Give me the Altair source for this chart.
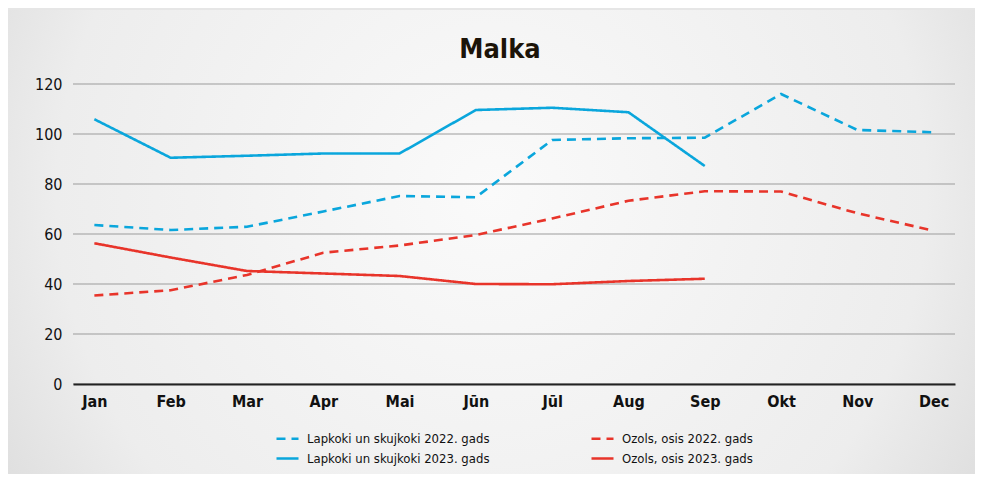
import altair as alt
import pandas as pd

months = ["Jan", "Feb", "Mar", "Apr", "Mai", "Jūn", "Jūl", "Aug", "Sep", "Okt", "Nov", "Dec"]

lapkoki_2022 = [63.6, 61.6, 62.9, 69.0, 75.2, 74.7, 97.6, 98.3, 98.5, 116.0, 101.6, 100.7]
lapkoki_2023 = [105.9, 90.5, 91.3, 92.2, 92.2, 109.6, 110.5, 108.7, 87.2]
ozols_2022 = [35.4, 37.5, 43.6, 52.5, 55.4, 59.6, 66.2, 73.3, 77.1, 77.0, 68.3, 61.3]
ozols_2023 = [56.3, 50.6, 45.2, 44.2, 43.2, 40.0, 39.9, 41.2, 42.1]

y_ticks = [0, 20, 40, 60, 80, 100, 120]
title_text = ["Malka"]

series_names = [
    "Lapkoki un skujkoki 2022. gads",
    "Lapkoki un skujkoki 2023. gads",
    "Ozols, osis 2022. gads",
    "Ozols, osis 2023. gads",
]
series_values = [lapkoki_2022, lapkoki_2023, ozols_2022, ozols_2023]

rows = []
for name, vals in zip(series_names, series_values):
    for m, v in zip(months, vals):
        rows.append({"month": m, "value": v, "series": name})
df = pd.DataFrame(rows)

BLUE = "#0aa6dc"
RED = "#e8342a"
FONT = "Liberation Sans Narrow, DejaVu Sans Condensed, Roboto"

W, H = 882, 300
PAD = {"left": 65, "top": 76, "right": 20, "bottom": 90}

bg = alt.Chart(pd.DataFrame({"a": [0]})).mark_rect(
    fill=alt.RadialGradient(
        gradient="radial",
        stops=[
            alt.GradientStop(color="#fafafa", offset=0),
            alt.GradientStop(color="#ededed", offset=0.6),
            alt.GradientStop(color="#cdcdcd", offset=1),
        ],
        x1=0.5, y1=0.45, r1=0, x2=0.5, y2=0.45, r2=0.75,
    )
).encode(
    x=alt.value(-PAD["left"]),
    x2=alt.value(W + PAD["right"]),
    y=alt.value(-PAD["top"] + 2),
    y2=alt.value(H + PAD["bottom"]),
)

title = alt.Chart(pd.DataFrame({"t": title_text})).mark_text(
    font=FONT, fontSize=27, fontWeight="bold", color="#1c1409",
    align="center", baseline="alphabetic",
).encode(text="t:N", x=alt.value(427), y=alt.value(-26))

grid = alt.Chart(pd.DataFrame({"v": y_ticks})).mark_rule(
    color="#9c9c9c", strokeWidth=1.2
).encode(y=alt.Y("v:Q", scale=alt.Scale(domain=[0, 120], nice=False)))

legend_cfg = dict(
    title=None, orient="none", legendX=202, legendY=342,
    columns=2, columnPadding=96, rowPadding=0,
    symbolType="stroke", symbolSize=484, symbolStrokeWidth=2.6,
    labelFont=FONT, labelFontSize=13, labelColor="#111111",
    labelLimit=400, labelOffset=7,
)

lines = alt.Chart(df).mark_line(strokeWidth=2.6).encode(
    x=alt.X(
        "month:N",
        sort=months,
        scale=alt.Scale(type="point", domain=months, padding=0.28),
        axis=alt.Axis(
            title=None, labelAngle=0, ticks=False, grid=False, zindex=1,
            domainColor="#222222", domainWidth=2,
            labelFont=FONT, labelFontSize=16, labelFontWeight="bold",
            labelColor="#111111", labelPadding=9,
        ),
    ),
    y=alt.Y(
        "value:Q",
        scale=alt.Scale(domain=[0, 120], nice=False),
        axis=alt.Axis(
            title=None, values=y_ticks, ticks=False, zindex=1,
            domain=False, grid=False,
            labelFont=FONT, labelFontSize=16, labelColor="#111111",
            labelPadding=11,
        ),
    ),
    color=alt.Color(
        "series:N",
        sort=series_names,
        scale=alt.Scale(domain=series_names, range=[BLUE, BLUE, RED, RED]),
        legend=alt.Legend(**legend_cfg),
    ),
    strokeDash=alt.StrokeDash(
        "series:N",
        sort=series_names,
        scale=alt.Scale(domain=series_names, range=[[9, 6], [1, 0], [9, 6], [1, 0]]),
        legend=alt.Legend(**legend_cfg),
    ),
)

chart = alt.layer(bg, title, grid, lines).properties(
    width=W,
    height=H,
    autosize=alt.AutoSizeParams(type="none"),
    padding=PAD,
    background="#e6e6e6",
).configure_view(stroke=None)

chart.save("out.html", embed_options={"renderer": "svg", "actions": False})
